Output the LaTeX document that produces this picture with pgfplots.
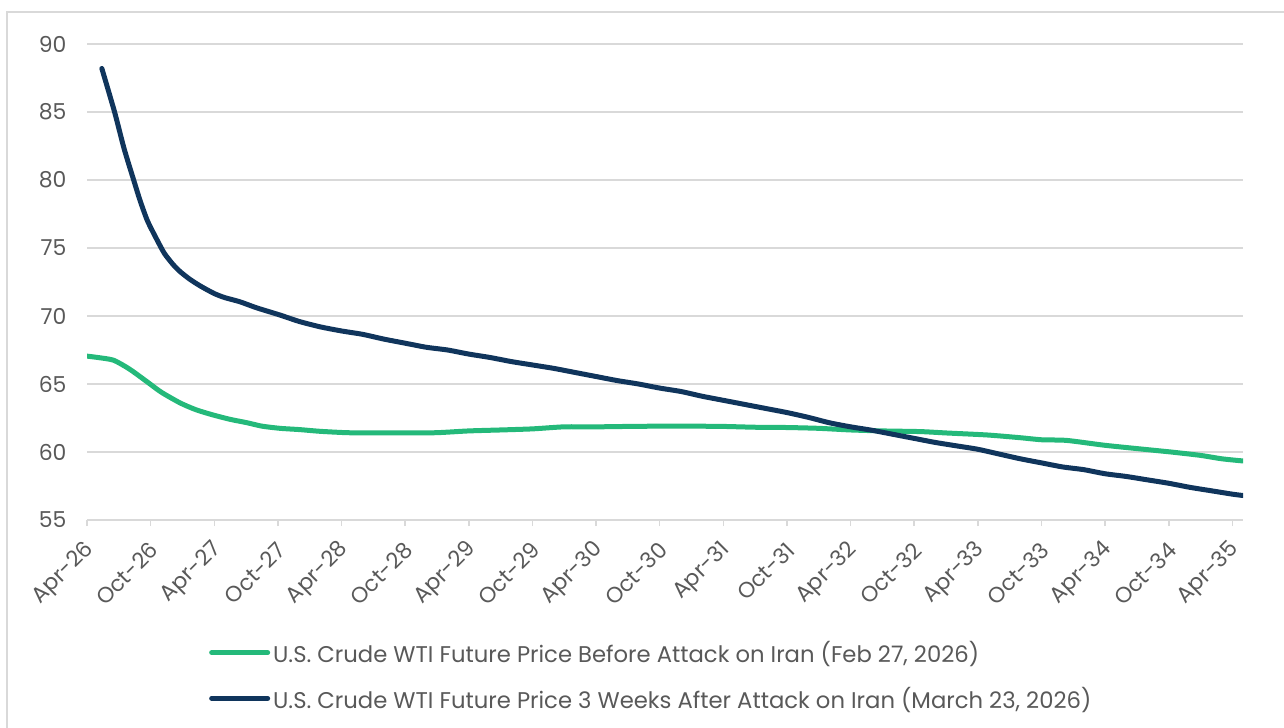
\documentclass[border=0pt]{standalone}
\usepackage{pgfplots}
\pgfplotsset{compat=1.18}
\usepackage{fontspec}
\setmainfont{Poppins}
\definecolor{wtigreen}{HTML}{24B97A}
\definecolor{wtinavy}{HTML}{10355C}
\definecolor{gridgray}{HTML}{D9D9D9}
\definecolor{txtgray}{HTML}{595959}

\pgfplotstableread{
m v
0 67.05
1 66.95
2.5 66.75
4 66.1
5.6 65.2
7 64.4
8.8 63.6
10.3 63.1
11.9 62.72
13.5 62.4
15.1 62.15
16.5 61.9
18.2 61.74
20 61.65
22 61.52
24.5 61.42
27 61.4
30 61.4
33 61.42
36 61.55
39 61.62
42 61.7
45 61.85
48 61.85
51 61.88
54 61.9
57 61.9
60 61.88
63 61.82
66 61.8
69 61.74
72 61.62
75 61.55
78.6 61.5
81 61.4
84.9 61.25
88 61.05
90 60.9
92.4 60.85
95.9 60.5
99 60.25
102.2 60.0
105 59.75
107 59.5
109 59.34
}\before

\pgfplotstableread{
m v
1.4 88.2
2.6 85.0
3.5 82.3
4.4 80.0
5.0 78.5
5.7 77.0
6.6 75.6
7.3 74.6
8.1 73.8
8.8 73.25
9.7 72.7
10.7 72.2
12 71.65
13 71.35
14.4 71.05
16 70.6
18.2 70.07
20 69.6
22 69.2
24 68.9
26 68.65
28 68.3
30 68.0
32 67.7
34 67.5
36 67.2
38 66.95
40 66.65
42 66.4
44 66.15
46 65.85
48 65.55
50 65.25
52 65.0
54 64.7
56 64.45
58 64.1
60 63.8
62 63.5
64 63.2
66 62.9
68 62.55
70 62.15
72 61.85
74 61.6
76 61.3
78 61.0
80 60.7
82 60.45
84 60.2
86 59.85
88 59.5
90 59.2
92 58.9
94 58.7
96 58.4
98 58.2
100 57.95
102 57.7
104 57.4
106 57.15
108 56.9
109 56.8
}\after

\begin{document}
\begin{tikzpicture}
\useasboundingbox (0,0) rectangle (1284bp,728bp);
\draw[gridgray, line width=1.5bp] (7bp,-5bp) -- (7bp,716bp) -- (1290bp,716bp);
\begin{axis}[
  at={(87bp,208bp)}, anchor=south west,
  width=1156bp, height=476bp, scale only axis,
  xmin=0, xmax=109, ymin=55, ymax=90,
  xtick={0,6,...,108},
  xticklabels={Apr-26,Oct-26,Apr-27,Oct-27,Apr-28,Oct-28,Apr-29,Oct-29,Apr-30,Oct-30,Apr-31,Oct-31,Apr-32,Oct-32,Apr-33,Oct-33,Apr-34,Oct-34,Apr-35},
  ytick={55,60,...,90},
  axis x line*=bottom, axis y line*=left,
  x axis line style={gridgray, line width=1.5bp},
  y axis line style={draw=none},
  xtick align=outside,
  major tick length=6bp,
  xtick style={gridgray, line width=1.5bp},
  ytick style={draw=none},
  ymajorgrids,
  major grid style={gridgray, line width=1.5bp},
  /pgf/number format/assume math mode=true,
  ticklabel style={font=\fontsize{22}{26}\selectfont, text=txtgray},
  yticklabel style={anchor=east, xshift=-17bp},
  xticklabel style={xshift=6bp, yshift=-18bp, rotate=45, anchor=east},
  legend style={at={(0.1055,-0.246)}, anchor=north west, draw=none,
    font=\fontsize{22.8}{27}\selectfont, text=txtgray,
    row sep=19bp, inner xsep=0bp,
    nodes={inner xsep=3bp}},
  legend cell align=left,
  legend image code/.code={\draw[#1] (0bp,0bp) -- (56bp,0bp);},
]
\addplot[wtigreen, line width=5bp, line cap=round, smooth, tension=0.4] table[x=m,y=v]{\before};
\addlegendentry{U.S. Crude WTI Future Price Before Attack on Iran (Feb 27, 2026)}
\addplot[wtinavy, line width=5bp, line cap=round, smooth, tension=0.4] table[x=m,y=v]{\after};
\addlegendentry{U.S. Crude WTI Future Price 3 Weeks After Attack on Iran (March 23, 2026)}
\end{axis}
\end{tikzpicture}
\end{document}
